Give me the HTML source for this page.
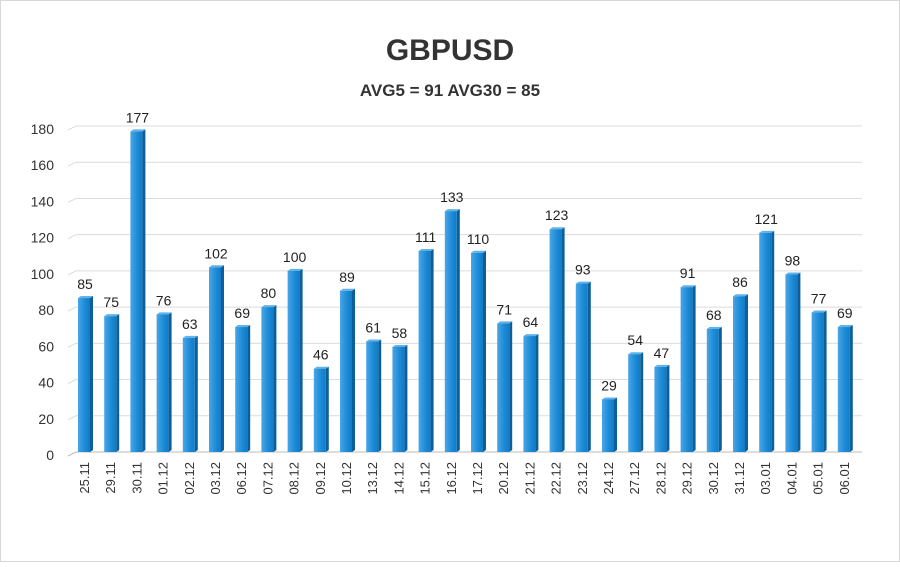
<!DOCTYPE html>
<html><head><meta charset="utf-8"><style>
body{margin:0;background:#fff;width:900px;height:562px;overflow:hidden;font-family:"Liberation Sans",sans-serif}
</style></head><body>
<svg id="chart" width="900" height="562">
<defs>
<linearGradient id="front" x1="0" x2="1" y1="0" y2="0">
<stop offset="0" stop-color="#4aa6e6"/><stop offset="0.6" stop-color="#1b8ad6"/><stop offset="1" stop-color="#137ac4"/></linearGradient>
</defs>
<rect x="0.5" y="0.5" width="899" height="561" fill="#fff" stroke="#d8d8d8"/>
<text x="450" y="60" text-anchor="middle" font-size="30" font-weight="bold" fill="#333">GBPUSD</text>
<text x="450" y="96" text-anchor="middle" font-size="17" font-weight="bold" fill="#333">AVG5 = 91 AVG30 = 85</text>
<g id="grid"></g><g id="bars"></g><g id="labels"></g>
</svg>
<script>
const categories=["25.11","29.11","30.11","01.12","02.12","03.12","06.12","07.12","08.12","09.12","10.12","13.12","14.12","15.12","16.12","17.12","20.12","21.12","22.12","23.12","24.12","27.12","28.12","29.12","30.12","31.12","03.01","04.01","05.01","06.01"];
const values=[85,75,177,76,63,102,69,80,100,46,89,61,58,111,133,110,71,64,123,93,29,54,47,91,68,86,121,98,77,69];
const yTicks=[0,20,40,60,80,100,120,140,160,180];
const NS="http://www.w3.org/2000/svg";
const y0=452,yTop=126,yMax=180;
function yScale(v){return y0-(v/yMax)*(y0-yTop);}
function xScale(i){return 78+i*26.2;}
function mk(t,a,p){const e=document.createElementNS(NS,t);for(const k in a)e.setAttribute(k,a[k]);p.appendChild(e);return e;}
const grid=document.getElementById('grid'),bars=document.getElementById('bars'),labels=document.getElementById('labels');
yTicks.forEach(t=>{const y=yScale(t);
const g=mk('path',{d:`M68 ${y+4} L76 ${y} L862 ${y}`,fill:'none',stroke:t===0?'#bbb':'#dcdcdc','stroke-width':1},grid);


const tx=mk('text',{x:54,y:y+8,'text-anchor':'end','font-size':14,fill:'#333'},grid);tx.textContent=t;


});
values.forEach((v,i)=>{const x=xScale(i),y=yScale(v);
const g=mk('g',{},bars);


mk('path',{d:`M${x+12} ${y} L${x+15} ${y-2} L${x+15} ${y0-2} L${x+12} ${y0} Z`,fill:'#0d5f9a'},g);
mk('path',{d:`M${x} ${y} L${x+3} ${y-2} L${x+15} ${y-2} L${x+12} ${y} Z`,fill:'#5fb2ea'},g);
mk('rect',{x:x,y:y,width:12,height:y0-y,fill:'url(#front)'},g);
const vt=mk('text',{x:x+7,y:y-9,'text-anchor':'middle','font-size':14,fill:'#222'},labels);vt.textContent=v;


const ct=mk('text',{x:0,y:0,'text-anchor':'end','font-size':13,fill:'#333',transform:`translate(${x+11},462) rotate(-90)`},labels);ct.textContent=categories[i];


});
</script>
</body></html>
